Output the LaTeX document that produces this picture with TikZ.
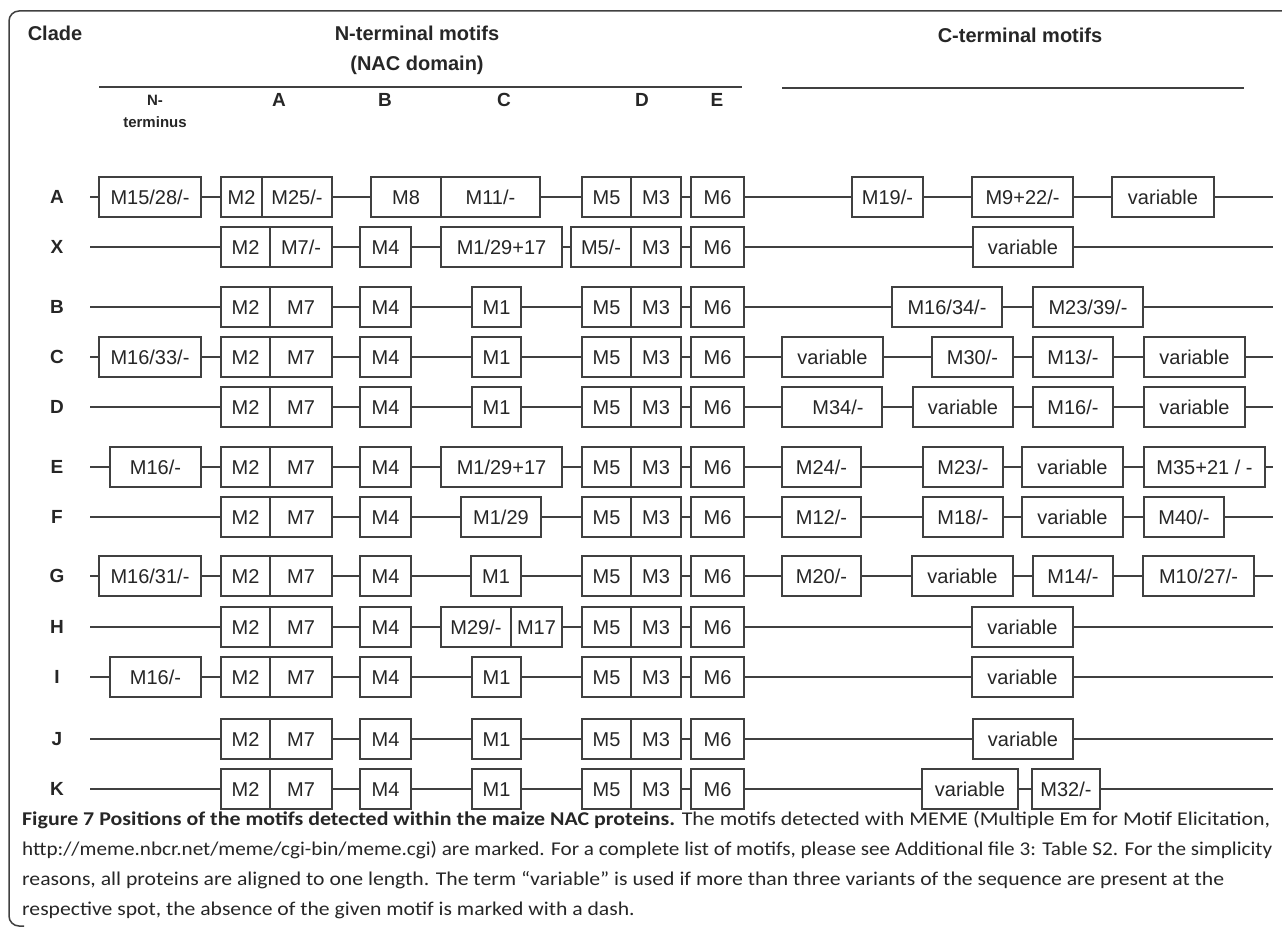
\documentclass[tikz,border=0pt]{standalone}
\usepackage{fontspec}
\setmainfont{Liberation Sans}
\newfontfamily\capfont{Carlito}
\definecolor{linec}{HTML}{404040}
\definecolor{txtc}{HTML}{262626}
\newcommand\motifbox[5]{%
  \pgfmathsetmacro\mbW{#3-#2}\pgfmathsetmacro\mbC{(#2+#3)/2}%
  \node[mbox,minimum width=\mbW pt] (#1) at (\mbC,#4) {#5};}
\tikzset{
  mbox/.style={draw=linec, line width=1.5pt, fill=white, inner sep=0pt,
    minimum height=40pt, font=\fontsize{20}{24}\selectfont, text=txtc,
    text height=14.4pt, text depth=0pt},
  conn/.style={draw=linec, line width=1.5pt},
  rowlab/.style={font=\bfseries\fontsize{19}{22}\selectfont, text=txtc,
    inner sep=0pt, text height=13.7pt, text depth=0pt},
  head/.style={font=\bfseries\fontsize{20}{24}\selectfont, text=txtc, inner sep=0pt},
  subhead/.style={font=\bfseries\fontsize{15}{18}\selectfont, text=txtc, inner sep=0pt},
  colhead/.style={font=\bfseries\fontsize{19}{22}\selectfont, text=txtc, inner sep=0pt},
  rulel/.style={draw=linec, line width=1.5pt},
  framel/.style={draw=linec, line width=1.5pt, rounded corners=10pt},
  capline/.style={font=\capfont\fontsize{19.5}{24}\selectfont, text=txtc,
    inner sep=0pt, anchor=base west}
}
\begin{document}
\begin{tikzpicture}[x=1pt,y=-1pt]
\useasboundingbox (0,0) rectangle (1282,931);
% frame
\coordinate (f1) at (1282,11);
\coordinate (f2) at (9,11);
\coordinate (f3) at (9,926);
\coordinate (f4) at (24,926);
\draw[framel] (f1) -- (f2) -- (f3) -- (f4);
% headers
\node[head] (hclade) at (55,33) {Clade};
\node[head] (hnterm) at (417,33) {N-terminal motifs};
\node[head] (hnac) at (417,65) {(NAC domain)};
\node[head] (hcterm) at (1020,35) {C-terminal motifs};
\coordinate (rn1) at (99,87); \coordinate (rn2) at (742,87);
\coordinate (rc1) at (782,88); \coordinate (rc2) at (1244,88);
\draw[rulel] (rn1) -- (rn2);
\draw[rulel] (rc1) -- (rc2);
\node[subhead] (hn1) at (155,100) {N-};
\node[subhead] (hn2) at (155,122) {terminus};
\node[colhead] (hA) at (279,100) {A};
\node[colhead] (hB) at (385,100) {B};
\node[colhead] (hC) at (504,100) {C};
\node[colhead] (hD) at (642,100) {D};
\node[colhead] (hE) at (717,100) {E};
% row y positions
\def\yA{197}\def\yX{247}\def\yB{307}\def\yC{357}\def\yD{407}\def\yE{467}
\def\yF{517}\def\yG{576}\def\yH{627}\def\yI{677}\def\yJ{739}\def\yK{789}
% ---- row A
\node[rowlab] (lA) at (57,\yA) {A};
\coordinate (As) at (90,\yA); \coordinate (At) at (1273,\yA);
\motifbox{A1}{99}{201}{\yA}{M15/28/-}
\motifbox{A2}{221}{262}{\yA}{M2}
\motifbox{A3}{262}{332}{\yA}{M25/-}
\motifbox{A4}{371}{441}{\yA}{M8}
\motifbox{A5}{441}{540}{\yA}{M11/-}
\motifbox{A6}{582}{631}{\yA}{M5}
\motifbox{A7}{631}{681}{\yA}{M3}
\motifbox{A8}{691}{744}{\yA}{M6}
\motifbox{A9}{852}{923}{\yA}{M19/-}
\motifbox{A10}{972}{1073}{\yA}{M9+22/-}
\motifbox{A11}{1112}{1214}{\yA}{variable}
\draw[conn] (As) -- (A1) (A1) -- (A2) (A3) -- (A4) (A5) -- (A6) (A7) -- (A8)
  (A8) -- (A9) (A9) -- (A10) (A10) -- (A11) (A11) -- (At);
% ---- row X
\node[rowlab] (lX) at (57,\yX) {X};
\coordinate (Xs) at (90,\yX); \coordinate (Xt) at (1273,\yX);
\motifbox{X1}{221}{270}{\yX}{M2}
\motifbox{X2}{270}{332}{\yX}{M7/-}
\motifbox{X3}{360}{411}{\yX}{M4}
\motifbox{X4}{441}{562}{\yX}{M1/29+17}
\motifbox{X5}{571}{631}{\yX}{M5/-}
\motifbox{X6}{631}{681}{\yX}{M3}
\motifbox{X7}{691}{744}{\yX}{M6}
\motifbox{X8}{973}{1073}{\yX}{variable}
\draw[conn] (Xs) -- (X1) (X2) -- (X3) (X3) -- (X4) (X4) -- (X5) (X6) -- (X7)
  (X7) -- (X8) (X8) -- (Xt);
% ---- row B
\node[rowlab] (lB) at (57,\yB) {B};
\coordinate (Bs) at (90,\yB); \coordinate (Bt) at (1273,\yB);
\motifbox{B1}{221}{270}{\yB}{M2}
\motifbox{B2}{270}{332}{\yB}{M7}
\motifbox{B3}{360}{411}{\yB}{M4}
\motifbox{B4}{472}{521}{\yB}{M1}
\motifbox{B5}{582}{631}{\yB}{M5}
\motifbox{B6}{631}{681}{\yB}{M3}
\motifbox{B7}{691}{744}{\yB}{M6}
\motifbox{B8}{892}{1002}{\yB}{M16/34/-}
\motifbox{B9}{1033}{1143}{\yB}{M23/39/-}
\draw[conn] (Bs) -- (B1) (B2) -- (B3) (B3) -- (B4) (B4) -- (B5) (B6) -- (B7)
  (B7) -- (B8) (B8) -- (B9) (B9) -- (Bt);
% ---- row C
\node[rowlab] (lC) at (57,\yC) {C};
\coordinate (Cs) at (90,\yC); \coordinate (Ct) at (1273,\yC);
\motifbox{C1}{99}{201}{\yC}{M16/33/-}
\motifbox{C2}{221}{270}{\yC}{M2}
\motifbox{C3}{270}{332}{\yC}{M7}
\motifbox{C4}{360}{411}{\yC}{M4}
\motifbox{C5}{472}{521}{\yC}{M1}
\motifbox{C6}{582}{631}{\yC}{M5}
\motifbox{C7}{631}{681}{\yC}{M3}
\motifbox{C8}{691}{744}{\yC}{M6}
\motifbox{C9}{782}{883}{\yC}{variable}
\motifbox{C10}{932}{1013}{\yC}{M30/-}
\motifbox{C11}{1033}{1113}{\yC}{M13/-}
\motifbox{C12}{1144}{1245}{\yC}{variable}
\draw[conn] (Cs) -- (C1) (C1) -- (C2) (C3) -- (C4) (C4) -- (C5) (C5) -- (C6) (C7) -- (C8)
  (C8) -- (C9) (C9) -- (C10) (C10) -- (C11) (C11) -- (C12) (C12) -- (Ct);
% ---- row D
\node[rowlab] (lD) at (57,\yD) {D};
\coordinate (Ds) at (90,\yD); \coordinate (Dt) at (1273,\yD);
\motifbox{D1}{221}{270}{\yD}{M2}
\motifbox{D2}{270}{332}{\yD}{M7}
\motifbox{D3}{360}{411}{\yD}{M4}
\motifbox{D4}{472}{521}{\yD}{M1}
\motifbox{D5}{582}{631}{\yD}{M5}
\motifbox{D6}{631}{681}{\yD}{M3}
\motifbox{D7}{691}{744}{\yD}{M6}
\motifbox{D8}{782}{882}{\yD}{\hspace{12pt}M34/-}
\motifbox{D9}{913}{1013}{\yD}{variable}
\motifbox{D10}{1033}{1113}{\yD}{M16/-}
\motifbox{D11}{1144}{1245}{\yD}{variable}
\draw[conn] (Ds) -- (D1) (D2) -- (D3) (D3) -- (D4) (D4) -- (D5) (D6) -- (D7)
  (D7) -- (D8) (D8) -- (D9) (D9) -- (D10) (D10) -- (D11) (D11) -- (Dt);
% ---- row E
\node[rowlab] (lE) at (57,\yE) {E};
\coordinate (Es) at (90,\yE); \coordinate (Et) at (1273,\yE);
\motifbox{E1}{110}{201}{\yE}{M16/-}
\motifbox{E2}{221}{270}{\yE}{M2}
\motifbox{E3}{270}{332}{\yE}{M7}
\motifbox{E4}{360}{411}{\yE}{M4}
\motifbox{E5}{441}{562}{\yE}{M1/29+17}
\motifbox{E6}{582}{631}{\yE}{M5}
\motifbox{E7}{631}{681}{\yE}{M3}
\motifbox{E8}{691}{744}{\yE}{M6}
\motifbox{E9}{782}{861}{\yE}{M24/-}
\motifbox{E10}{923}{1003}{\yE}{M23/-\hspace{12pt}}
\motifbox{E11}{1022}{1123}{\yE}{variable}
\motifbox{E12}{1144}{1265}{\yE}{M35+21 / -}
\draw[conn] (Es) -- (E1) (E1) -- (E2) (E3) -- (E4) (E4) -- (E5) (E5) -- (E6) (E7) -- (E8)
  (E8) -- (E9) (E9) -- (E10) (E10) -- (E11) (E11) -- (E12) (E12) -- (Et);
% ---- row F
\node[rowlab] (lF) at (57,\yF) {F};
\coordinate (Fs) at (90,\yF); \coordinate (Ft) at (1273,\yF);
\motifbox{F1}{221}{270}{\yF}{M2}
\motifbox{F2}{270}{332}{\yF}{M7}
\motifbox{F3}{360}{411}{\yF}{M4}
\motifbox{F4}{461}{541}{\yF}{M1/29}
\motifbox{F5}{582}{631}{\yF}{M5}
\motifbox{F6}{631}{681}{\yF}{M3}
\motifbox{F7}{691}{744}{\yF}{M6}
\motifbox{F8}{782}{861}{\yF}{M12/-}
\motifbox{F9}{923}{1003}{\yF}{M18/-\hspace{12pt}}
\motifbox{F10}{1022}{1123}{\yF}{variable}
\motifbox{F11}{1144}{1224}{\yF}{M40/-\hspace{6pt}}
\draw[conn] (Fs) -- (F1) (F2) -- (F3) (F3) -- (F4) (F4) -- (F5) (F6) -- (F7)
  (F7) -- (F8) (F8) -- (F9) (F9) -- (F10) (F10) -- (F11) (F11) -- (Ft);
% ---- row G
\node[rowlab] (lG) at (57,\yG) {G};
\coordinate (Gs) at (90,\yG); \coordinate (Gt) at (1273,\yG);
\motifbox{G1}{99}{201}{\yG}{M16/31/-}
\motifbox{G2}{221}{270}{\yG}{M2}
\motifbox{G3}{270}{332}{\yG}{M7}
\motifbox{G4}{360}{411}{\yG}{M4}
\motifbox{G5}{471}{521}{\yG}{M1}
\motifbox{G6}{582}{631}{\yG}{M5}
\motifbox{G7}{631}{681}{\yG}{M3}
\motifbox{G8}{691}{744}{\yG}{M6}
\motifbox{G9}{782}{861}{\yG}{M20/-\hspace{6pt}}
\motifbox{G10}{912}{1013}{\yG}{variable}
\motifbox{G11}{1033}{1113}{\yG}{M14/-}
\motifbox{G12}{1143}{1254}{\yG}{M10/27/-\hspace{6pt}}
\draw[conn] (Gs) -- (G1) (G1) -- (G2) (G3) -- (G4) (G4) -- (G5) (G5) -- (G6) (G7) -- (G8)
  (G8) -- (G9) (G9) -- (G10) (G10) -- (G11) (G11) -- (G12) (G12) -- (Gt);
% ---- row H
\node[rowlab] (lH) at (57,\yH) {H};
\coordinate (Hs) at (90,\yH); \coordinate (Ht) at (1273,\yH);
\motifbox{H1}{221}{270}{\yH}{M2}
\motifbox{H2}{270}{332}{\yH}{M7}
\motifbox{H3}{360}{411}{\yH}{M4}
\motifbox{H4}{441}{511}{\yH}{M29/-}
\motifbox{H5}{511}{562}{\yH}{M17}
\motifbox{H6}{582}{631}{\yH}{M5}
\motifbox{H7}{631}{681}{\yH}{M3}
\motifbox{H8}{691}{744}{\yH}{M6}
\motifbox{H9}{972}{1073}{\yH}{variable}
\draw[conn] (Hs) -- (H1) (H2) -- (H3) (H3) -- (H4) (H5) -- (H6) (H7) -- (H8)
  (H8) -- (H9) (H9) -- (Ht);
% ---- row I
\node[rowlab] (lI) at (57,\yI) {I};
\coordinate (Is) at (90,\yI); \coordinate (It) at (1273,\yI);
\motifbox{I1}{110}{201}{\yI}{M16/-}
\motifbox{I2}{221}{270}{\yI}{M2}
\motifbox{I3}{270}{332}{\yI}{M7}
\motifbox{I4}{360}{411}{\yI}{M4}
\motifbox{I5}{472}{521}{\yI}{M1}
\motifbox{I6}{582}{631}{\yI}{M5}
\motifbox{I7}{631}{681}{\yI}{M3}
\motifbox{I8}{691}{744}{\yI}{M6}
\motifbox{I9}{972}{1073}{\yI}{variable}
\draw[conn] (Is) -- (I1) (I1) -- (I2) (I3) -- (I4) (I4) -- (I5) (I5) -- (I6) (I7) -- (I8)
  (I8) -- (I9) (I9) -- (It);
% ---- row J
\node[rowlab] (lJ) at (57,\yJ) {J};
\coordinate (Js) at (90,\yJ); \coordinate (Jt) at (1273,\yJ);
\motifbox{J1}{221}{270}{\yJ}{M2}
\motifbox{J2}{270}{332}{\yJ}{M7}
\motifbox{J3}{360}{411}{\yJ}{M4}
\motifbox{J4}{472}{521}{\yJ}{M1}
\motifbox{J5}{582}{631}{\yJ}{M5}
\motifbox{J6}{631}{681}{\yJ}{M3}
\motifbox{J7}{691}{744}{\yJ}{M6}
\motifbox{J8}{973}{1073}{\yJ}{variable}
\draw[conn] (Js) -- (J1) (J2) -- (J3) (J3) -- (J4) (J4) -- (J5) (J6) -- (J7)
  (J7) -- (J8) (J8) -- (Jt);
% ---- row K
\node[rowlab] (lK) at (57,\yK) {K};
\coordinate (Ks) at (90,\yK); \coordinate (Kt) at (1273,\yK);
\motifbox{K1}{221}{270}{\yK}{M2}
\motifbox{K2}{270}{332}{\yK}{M7}
\motifbox{K3}{360}{411}{\yK}{M4}
\motifbox{K4}{472}{521}{\yK}{M1}
\motifbox{K5}{582}{631}{\yK}{M5}
\motifbox{K6}{631}{681}{\yK}{M3}
\motifbox{K7}{691}{744}{\yK}{M6}
\motifbox{K8}{922}{1018}{\yK}{variable}
\motifbox{K9}{1032}{1100}{\yK}{M32/-}
\draw[conn] (Ks) -- (K1) (K2) -- (K3) (K3) -- (K4) (K4) -- (K5) (K6) -- (K7)
  (K7) -- (K8) (K8) -- (K9) (K9) -- (Kt);
% caption
\node[capline] (cap1) at (22,825) {\resizebox{1248pt}{\height}{\textbf{Figure 7 Positions of the motifs detected within the maize NAC proteins.} The motifs detected with MEME (Multiple Em for Motif Elicitation,}};
\node[capline] (cap2) at (22,855) {\resizebox{1250pt}{\height}{http://meme.nbcr.net/meme/cgi-bin/meme.cgi) are marked. For a complete list of motifs, please see Additional file 3: Table S2. For the simplicity}};
\node[capline] (cap3) at (22,885) {\resizebox{1202pt}{\height}{reasons, all proteins are aligned to one length. The term “variable” is used if more than three variants of the sequence are present at the}};
\node[capline] (cap4) at (22,915) {\scalebox{1.11}[1]{respective spot, the absence of the given motif is marked with a dash.}};
\end{tikzpicture}
\end{document}
